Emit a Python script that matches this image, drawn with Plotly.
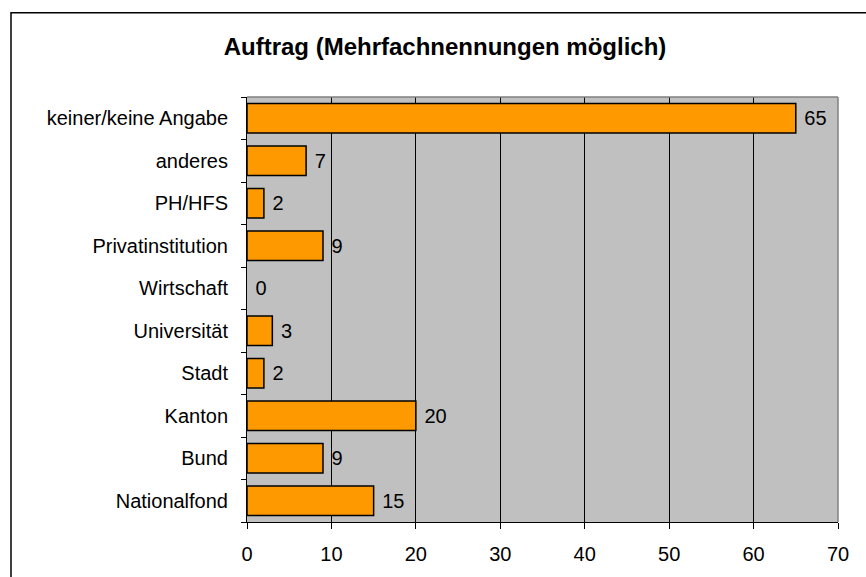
import plotly.graph_objects as go

# categories bottom to top (plotly draws the first one at the bottom)
categories = ["Nationalfond", "Bund", "Kanton", "Stadt", "Universität",
              "Wirtschaft", "Privatinstitution", "PH/HFS", "anderes",
              "keiner/keine Angabe"]
counts = [15, 9, 20, 2, 3, 0, 9, 2, 7, 65]
x_ticks = [0, 10, 20, 30, 40, 50, 60, 70]

W, H = 866, 577
L, R, T, B = 247, 838, 97, 531   # plot area in pixels

def px_x(p):
    return (p - L) / (R - L)

def px_y(p):
    return (B - p) / (B - T)

fig = go.Figure()
fig.add_trace(go.Bar(
    y=categories, x=counts, orientation="h",
    marker=dict(color="#FF9900",
                line=dict(color="black",
                          width=[1.5 if v > 0 else 0 for v in counts])),
    text=[" %d" % v for v in counts], textposition="outside",
    textfont=dict(family="Liberation Sans, Arial", size=20, color="black"),
    cliponaxis=False,
))

fig.update_layout(
    width=W, height=H,
    margin=dict(l=L, r=W - R, t=T, b=H - B),
    paper_bgcolor="white", plot_bgcolor="#C0C0C0",
    font=dict(family="Liberation Sans, Arial", size=20, color="black"),
    bargap=0.31, showlegend=False,
    title=dict(text="<b>Auftrag (Mehrfachnennungen möglich)</b>",
               x=445 / W, xref="container", xanchor="center",
               y=1 - 47 / H, yref="container", yanchor="middle",
               font=dict(size=24)),
    xaxis=dict(range=[0, 70], tickvals=x_ticks, showgrid=True,
               gridcolor="black", gridwidth=1, zeroline=False,
               showline=True, linecolor="black", linewidth=1,
               ticks="outside", ticklen=6, tickcolor="black",
               ticklabelstandoff=8),
    yaxis=dict(type="category", showgrid=False, showline=True,
               linecolor="black", linewidth=1, ticks="outside",
               tickson="boundaries", ticklen=5, tickcolor="black",
               ticklabelstandoff=14),
    shapes=[
        # gray top and right edge of the plot area
        dict(type="line", xref="paper", yref="paper", x0=0, x1=1, y0=1, y1=1,
             line=dict(color="#808080", width=1.5)),
        dict(type="line", xref="paper", yref="paper", x0=1, x1=1, y0=0, y1=1,
             line=dict(color="#808080", width=1.5)),
        # outer chart frame
        dict(type="rect", xref="paper", yref="paper",
             x0=px_x(11), x1=px_x(880), y0=px_y(590), y1=px_y(11),
             line=dict(color="black", width=1.5)),
    ],
)

fig.write_html("out.html", config={"displayModeBar": False},
               post_script="document.body.style.margin='0';")
